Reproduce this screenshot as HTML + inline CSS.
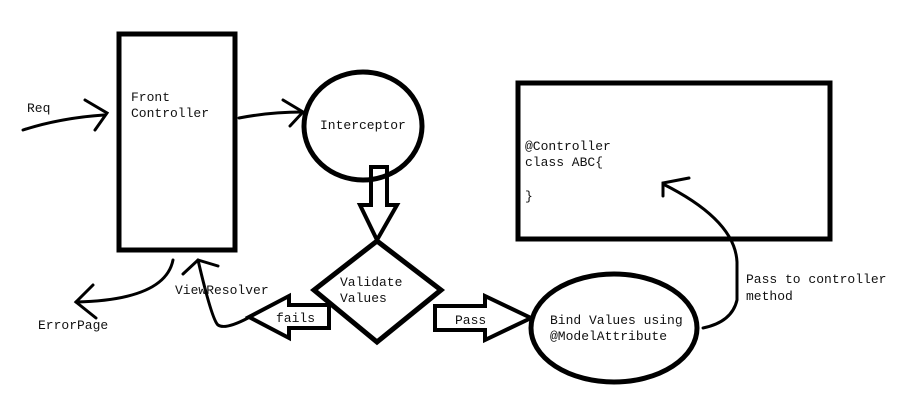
<!DOCTYPE html>
<html><head><style>
html,body{margin:0;padding:0;background:#fff;}
svg{display:block}
text{font-family:"Liberation Mono","DejaVu Sans Mono",monospace;font-size:13px;fill:#111}
</style></head><body>
<svg width="897" height="402" viewBox="0 0 897 402" xmlns="http://www.w3.org/2000/svg">
<g fill="none" stroke="#000" stroke-width="5" stroke-linejoin="miter">
<rect x="119" y="34" width="116" height="216"/>
<ellipse cx="363" cy="126" rx="59" ry="54"/>
<rect x="518" y="83" width="312" height="156"/>
<ellipse cx="614" cy="328" rx="83" ry="54"/>
<polygon points="377,241 441,290 377,342 314,290"/>
<polygon points="371,167 387,167 387,205 397,205 377,240 360,205 371,205" stroke-width="4"/>
<polygon points="329,305 289,305 289,296 249,317 289,338 289,328 329,328" stroke-width="4"/>
<polygon points="435,306 485,306 485,296 531,318 485,340 485,330 435,330" stroke-width="4"/>
</g>
<g fill="none" stroke="#000" stroke-width="3" stroke-linecap="round">
<path d="M23,130 Q60,118 104,115"/>
<path d="M85,100 L107,113 L95,130"/>
<path d="M239,118 Q270,112 302,112"/>
<path d="M283,100 L303,112 L290,126"/>
<path d="M173,260 Q165,300 76,302"/>
<path d="M93,285 L76,302 L96,318"/>
<path d="M248,318 Q225,330 218,325 Q212,320 198,260"/>
<path d="M183,274 L198,260 L218,266"/>
<path d="M703,328 Q732,322 737,300 L737,262 Q735,220 663,184"/>
<path d="M689,178 L663,183 L663,196"/>
</g>
<text x="27" y="112">Req</text>
<text x="131" y="101">Front</text>
<text x="131" y="117">Controller</text>
<text x="320" y="129">Interceptor</text>
<text x="340" y="286">Validate</text>
<text x="340" y="302">Values</text>
<text x="276" y="322">fails</text>
<text x="455" y="324">Pass</text>
<text x="175" y="294">ViewResolver</text>
<text x="38" y="329">ErrorPage</text>
<text x="525" y="150">@Controller</text>
<text x="525" y="166">class ABC{</text>
<text x="525" y="200">}</text>
<text x="746" y="283">Pass to controller</text>
<text x="746" y="300">method</text>
<text x="550" y="324">Bind Values using</text>
<text x="550" y="340">@ModelAttribute</text>
</svg>
</body></html>
